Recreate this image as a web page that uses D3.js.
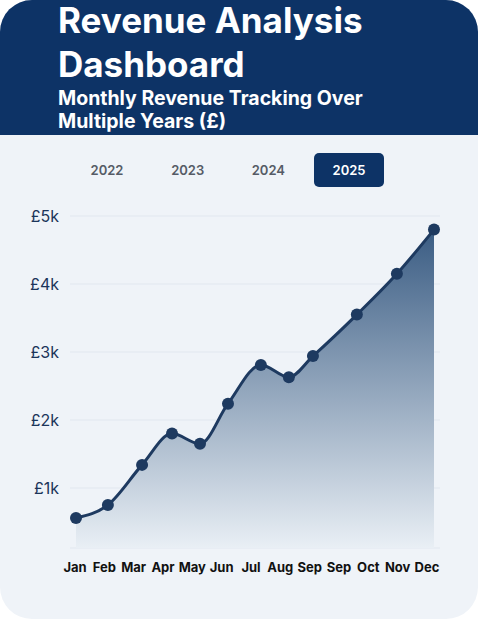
<!DOCTYPE html>
<html>
<head>
<meta charset="utf-8">
<script src="https://cdn.jsdelivr.net/npm/d3@7"></script>
<style>
  body { margin: 0; background: #fff; font-family: Inter, "Noto Sans", sans-serif; }
</style>
</head>
<body>
<div id="chart"></div>
<script>
// data
const months = ["Jan", "Feb", "Mar", "Apr", "May", "Jun", "Jul", "Aug", "Sep", "Oct", "Nov", "Dec"];
const monthPos = [0, 0.98, 2.03, 2.95, 3.81, 4.67, 5.68, 6.54, 7.28, 8.63, 9.86, 11];
const revenue = [560, 750, 1340, 1800, 1650, 2240, 2810, 2630, 2940, 3550, 4150, 4800];
const tickLabels = ["Jan", "Feb", "Mar", "Apr", "May", "Jun", "Jul", "Aug", "Sep", "Sep", "Oct", "Nov", "Dec"];
const yTicks = [1000, 2000, 3000, 4000, 5000];
const years = ["2022", "2023", "2024", "2025"];
const activeYear = "2025";

const W = 478, H = 619;
const navy = "#0d3366";

const svg = d3.select("#chart").append("svg").attr("width", W).attr("height", H);

const defs = svg.append("defs");
defs.append("clipPath").attr("id", "card")
  .append("rect").attr("width", W).attr("height", H).attr("rx", 32);
const grad = defs.append("linearGradient").attr("id", "area")
  .attr("x1", 0).attr("y1", 0).attr("x2", 0).attr("y2", 1);
grad.append("stop").attr("offset", "0%").attr("stop-color", "#3a5c83");
grad.append("stop").attr("offset", "100%").attr("stop-color", "#e9eff5");

const card = svg.append("g").attr("clip-path", "url(#card)");
card.append("rect").attr("width", W).attr("height", H).attr("fill", "#eff3f8");
card.append("rect").attr("width", W).attr("height", 135).attr("fill", navy);

// header
const titles = [
  { t: "Revenue Analysis", y: 33, s: 35 },
  { t: "Dashboard", y: 77, s: 35 },
  { t: "Monthly Revenue Tracking Over", y: 105, s: 19.5 },
  { t: "Multiple Years (£)", y: 128, s: 19.5 }
];
card.selectAll("text.title").data(titles).enter().append("text")
  .attr("x", 58).attr("y", d => d.y)
  .attr("font-size", d => d.s).attr("font-weight", 700)
  .attr("fill", "#fff").text(d => d.t);

// year tabs
const tabX = d3.scalePoint().domain(years).range([107, 349]);
const tabs = card.selectAll("g.tab").data(years).enter().append("g")
  .attr("transform", d => `translate(${tabX(d)},170)`);
tabs.filter(d => d === activeYear).append("rect")
  .attr("x", -35).attr("y", -17).attr("width", 70).attr("height", 34).attr("rx", 5)
  .attr("fill", navy);
tabs.append("text").attr("text-anchor", "middle").attr("dy", "0.35em")
  .attr("font-size", 13).attr("font-weight", 600)
  .attr("fill", d => d === activeYear ? "#fff" : "#555b66").text(d => d);

// scales
const x = d3.scaleLinear().domain([0, 11]).range([76, 434]);
const y = d3.scaleLinear().domain([0, 5000]).range([556, 216]);
const xLab = d3.scalePoint().domain(d3.range(tickLabels.length)).range([75, 427]);

// grid + y labels
card.selectAll("line.grid").data(yTicks).enter().append("line")
  .attr("x1", 70).attr("x2", 440).attr("y1", d => y(d)).attr("y2", d => y(d))
  .attr("stroke", "#e1e7ef").attr("stroke-width", 1);
card.append("line").attr("x1", 70).attr("x2", 440).attr("y1", 548).attr("y2", 548)
  .attr("stroke", "#e1e7ef");
card.selectAll("text.ylab").data(yTicks).enter().append("text")
  .attr("x", 59).attr("y", d => y(d)).attr("dy", "0.35em").attr("text-anchor", "end")
  .attr("font-size", 16).attr("fill", "#1c355a").text(d => "£" + d / 1000 + "k");

const pts = months.map((m, i) => ({ m, t: monthPos[i], v: revenue[i] }));

const area = d3.area().x(d => x(d.t)).y0(548).y1(d => y(d.v)).curve(d3.curveMonotoneX);
const line = d3.line().x(d => x(d.t)).y(d => y(d.v)).curve(d3.curveMonotoneX);

card.append("path").datum(pts).attr("d", area).attr("fill", "url(#area)");
card.append("path").datum(pts).attr("d", line).attr("fill", "none")
  .attr("stroke", "#1e3a60").attr("stroke-width", 3);
card.selectAll("circle").data(pts).enter().append("circle")
  .attr("cx", d => x(d.t)).attr("cy", d => y(d.v)).attr("r", 6)
  .attr("fill", "#1e3a60");

// x labels
card.selectAll("text.xlab").data(tickLabels).enter().append("text")
  .attr("x", (d, i) => xLab(i)).attr("y", 572).attr("text-anchor", "middle")
  .attr("font-size", 13).attr("font-weight", 700).attr("fill", "#111")
  .text(d => d);
</script>
</body>
</html>
